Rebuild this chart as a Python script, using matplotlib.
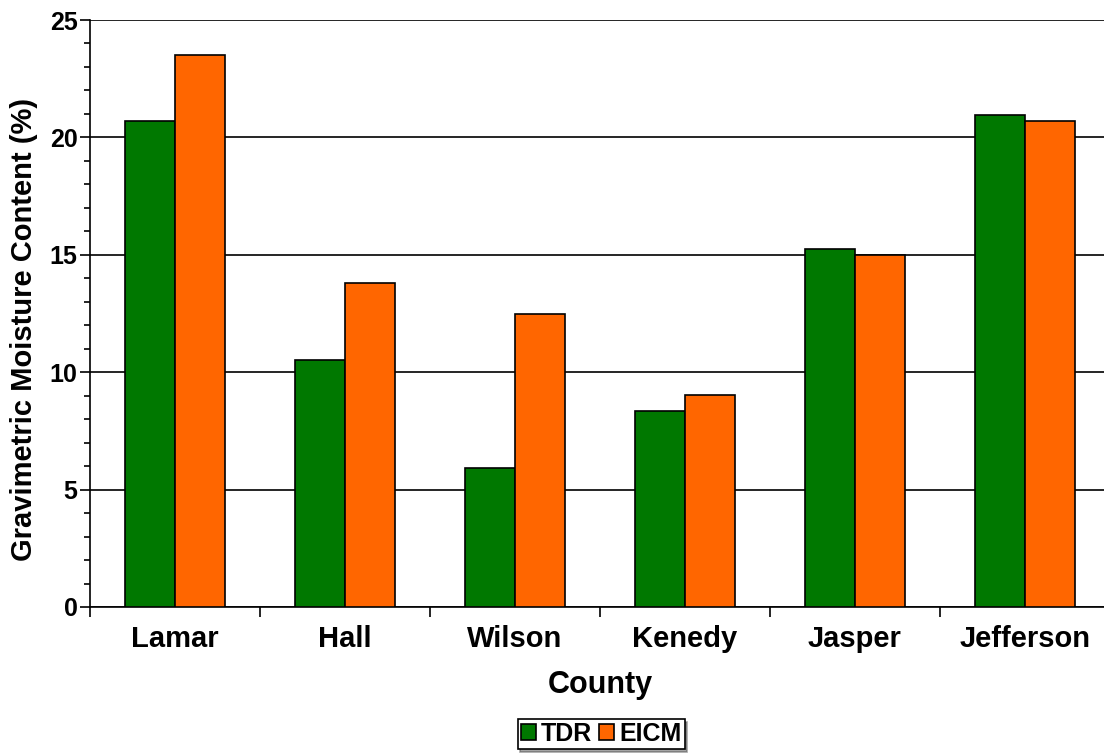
import matplotlib
matplotlib.use("Agg")
import matplotlib.pyplot as plt
import numpy as np
from matplotlib.ticker import MultipleLocator, FixedLocator

counties = ["Lamar", "Hall", "Wilson", "Kenedy", "Jasper", "Jefferson"]
tdr = [20.7, 10.5, 5.9, 8.35, 15.25, 20.95]
eicm = [23.5, 13.8, 12.5, 9.05, 15.0, 20.7]

plt.rcParams['font.family'] = ['Liberation Sans', 'DejaVu Sans']

fig = plt.figure(figsize=(11.04, 7.54), dpi=100)
ax = fig.add_axes([90/1104, 1-607/754, 1020/1104, 587/754])

x = np.arange(len(counties))
w = 0.294
ax.bar(x - w/2, tdr, w, color="#007800", edgecolor="black", linewidth=1.2, label="TDR", zorder=3)
ax.bar(x + w/2, eicm, w, color="#ff6600", edgecolor="black", linewidth=1.2, label="EICM", zorder=3)

ax.set_xlim(-0.5, len(counties) - 0.5)
ax.set_ylim(0, 25)
ax.yaxis.set_major_locator(MultipleLocator(5))
ax.yaxis.set_minor_locator(MultipleLocator(1))
ax.grid(axis='y', which='major', color='black', linewidth=1.2, zorder=0)
ax.set_xticks(x)
ax.set_xticklabels(counties, fontsize=21, fontweight='bold')
ax.xaxis.set_minor_locator(FixedLocator(np.arange(-0.5, len(counties), 1.0)))
ax.tick_params(axis='x', which='major', length=0, pad=13)
ax.tick_params(axis='x', which='minor', length=7, width=1.2, direction='out')
ax.tick_params(axis='y', which='major', length=7, width=1.2, labelsize=18, direction='out', pad=2)
ax.tick_params(axis='y', which='minor', length=4, width=1.2, direction='out')
for lab in ax.get_yticklabels():
    lab.set_fontweight('bold')

for s in ['top', 'right']:
    ax.spines[s].set_visible(False)
ax.spines['left'].set_linewidth(1.2)
ax.spines['bottom'].set_linewidth(1.2)

ax.set_xlabel("County", fontsize=22, fontweight='bold')
ax.xaxis.set_label_coords(0.5, -0.107)
ax.set_ylabel("Gravimetric Moisture Content (%)", fontsize=21, fontweight='bold')
ax.yaxis.set_label_coords(-0.051, 0.472)

leg = fig.legend(loc='center', bbox_to_anchor=(601/1104, 1-734/754), ncol=2,
                 prop={'weight': 'bold', 'size': 18}, frameon=True, fancybox=False,
                 shadow=True, handlelength=0.6, handleheight=0.6, handletextpad=0.2,
                 columnspacing=0.3, borderpad=0.12, borderaxespad=0)
leg.get_frame().set_edgecolor('black')
leg.get_frame().set_linewidth(1.2)

fig.savefig("out.png", dpi=100)
